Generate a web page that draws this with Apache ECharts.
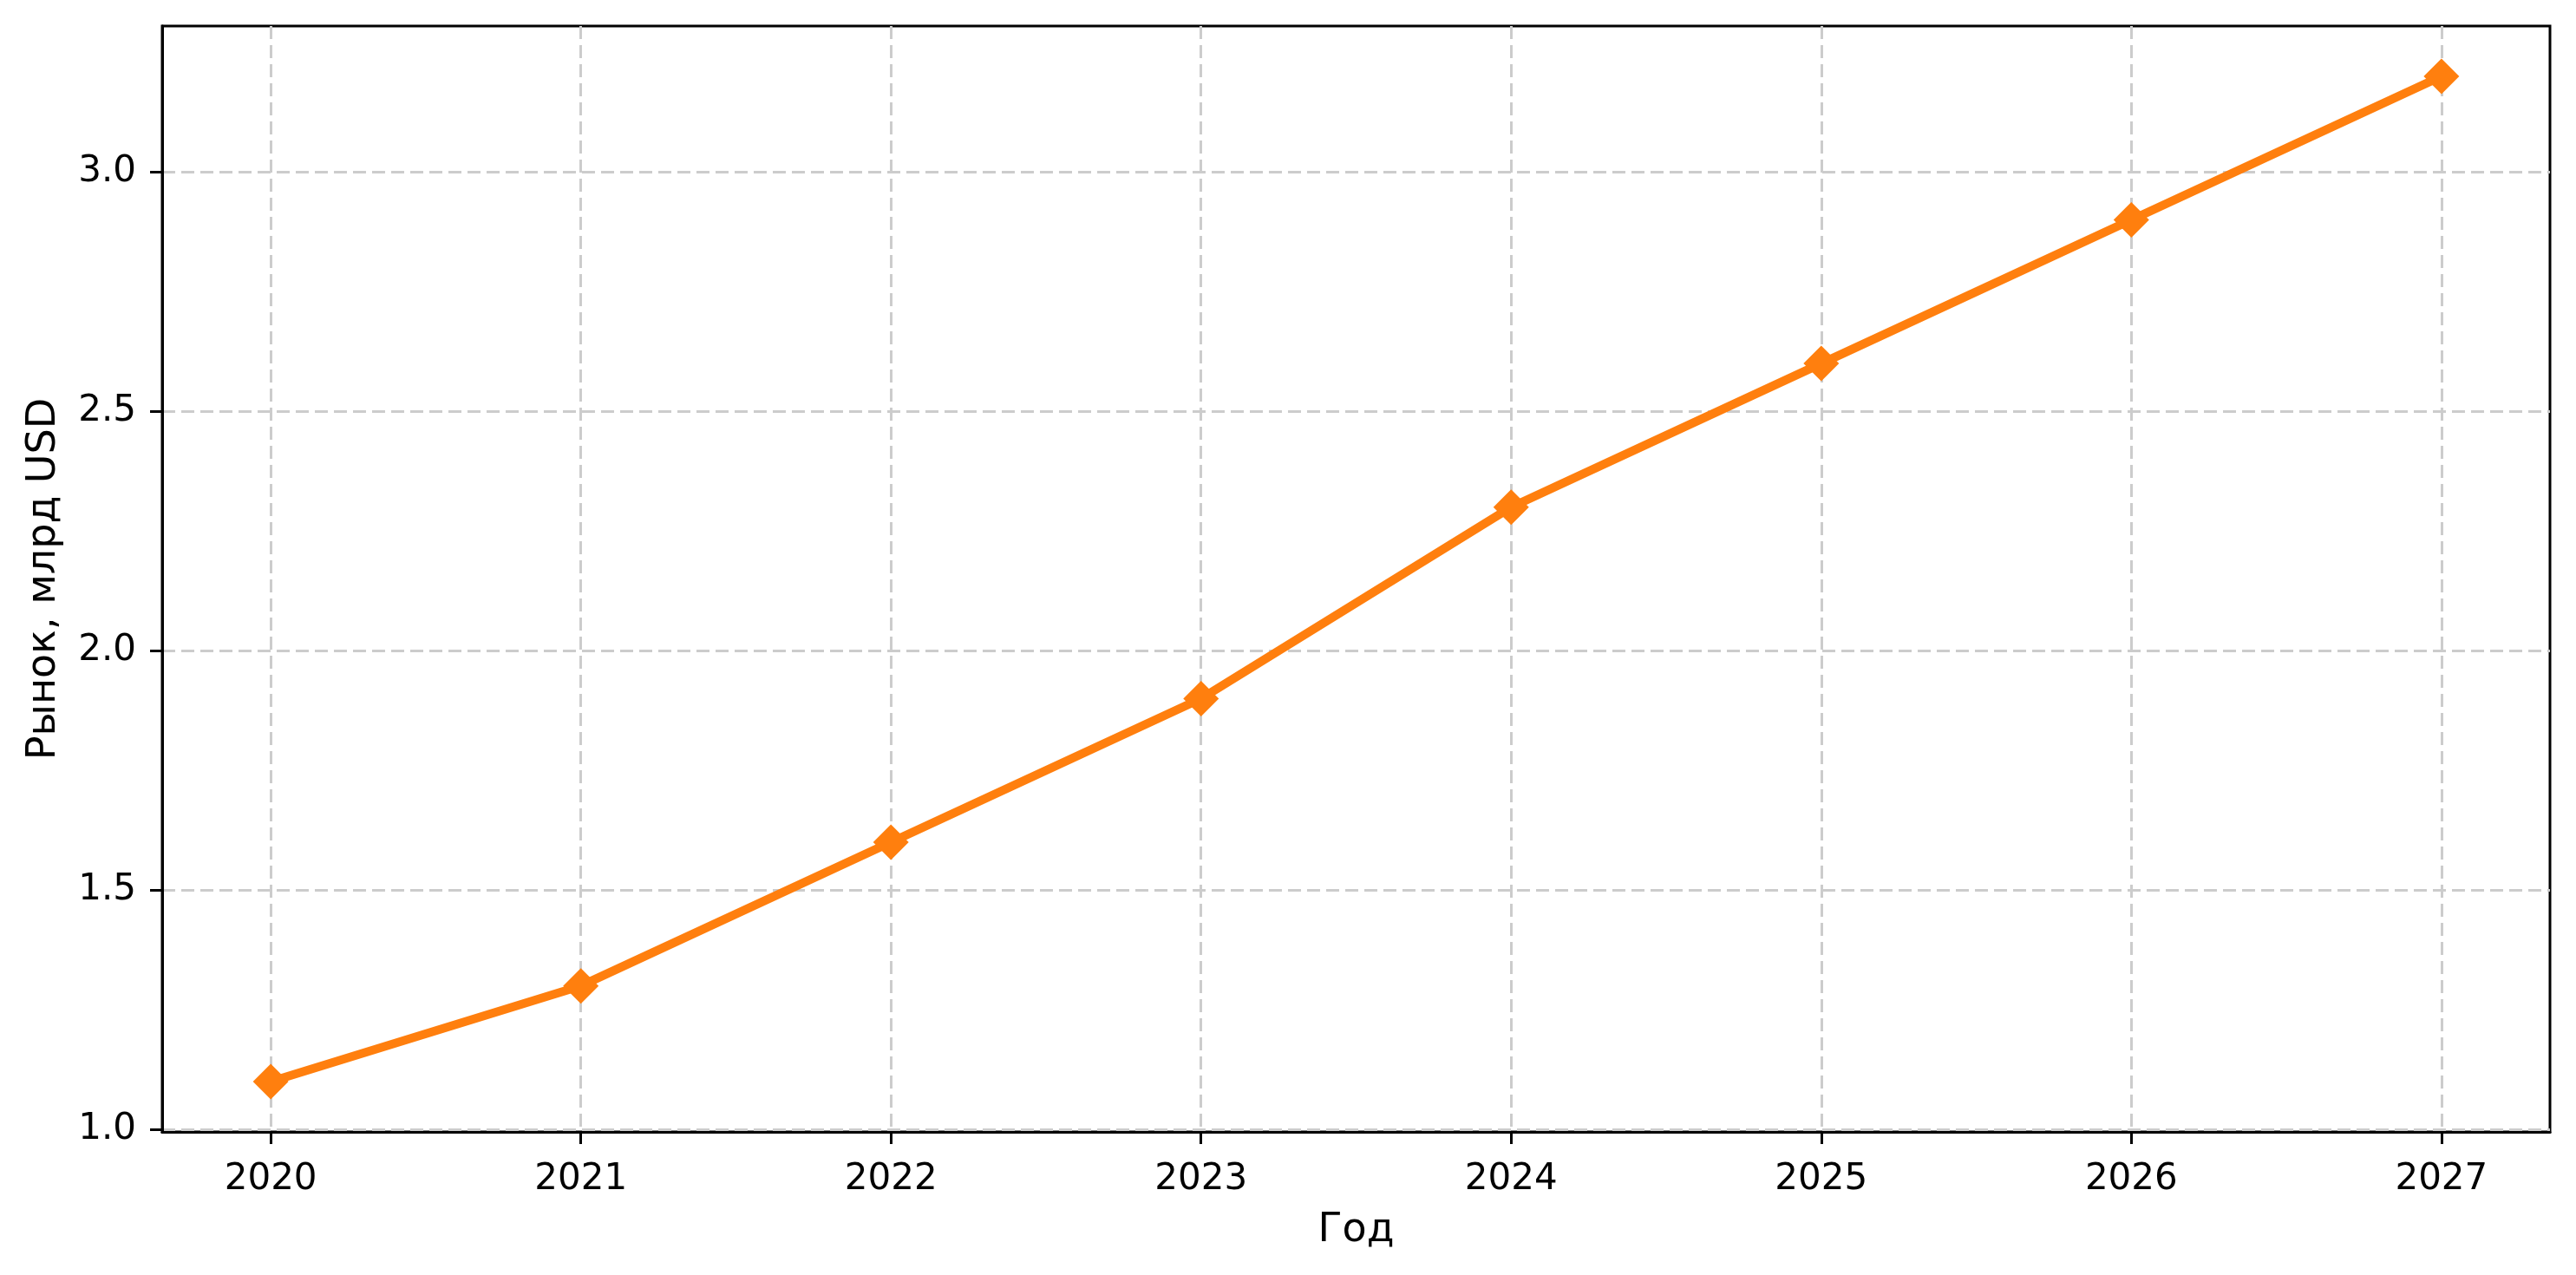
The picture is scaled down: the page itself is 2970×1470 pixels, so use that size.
<!DOCTYPE html>
<html>
<head>
<meta charset="utf-8">
<script src="https://cdn.jsdelivr.net/npm/echarts@6/dist/echarts.min.js"></script>
<style>
html,body{margin:0;padding:0;background:#fff;}
#chart{width:2970px;height:1470px;}
</style>
</head>
<body>
<div id="chart"></div>
<script>
const years = [2020, 2021, 2022, 2023, 2024, 2025, 2026, 2027];
const marketValues = [1.1, 1.3, 1.6, 1.9, 2.3, 2.6, 2.9, 3.2];
const yTicks = [1.0, 1.5, 2.0, 2.5, 3.0];
const xTitle = 'Год';
const yTitle = 'Рынок, млрд USD';

const font = 'DejaVu Sans';
const chart = echarts.init(document.getElementById('chart'), null, {renderer: 'canvas'});
const data = years.map((y, i) => [y, marketValues[i]]);

chart.setOption({
  animation: false,
  backgroundColor: '#ffffff',
  grid: {
    left: 187, right: 30, top: 30, bottom: 165,
    show: true, borderColor: '#000', borderWidth: 3, backgroundColor: 'transparent'
  },
  xAxis: {
    type: 'value',
    min: 2019.65, max: 2027.35,
    name: xTitle, nameLocation: 'middle', nameGap: 91,
    nameTextStyle: {fontFamily: font, fontSize: 46, color: '#000'},
    axisLine: {show: true, onZero: false, lineStyle: {color: '#000', width: 3}},
    axisTick: {show: true, inside: false, length: 14, lineStyle: {color: '#000', width: 3}, customValues: years},
    axisLabel: {fontFamily: font, fontSize: 42, color: '#000', margin: 34, customValues: years,
      formatter: v => String(Math.round(v))},
    splitLine: {show: true, lineStyle: {color: '#cccccc', width: 3, type: [15, 7]}}
  },
  yAxis: {
    type: 'value',
    min: 0.995, max: 3.305,
    name: yTitle, nameLocation: 'middle', nameGap: 113, nameRotate: 90,
    nameTextStyle: {fontFamily: font, fontSize: 46, color: '#000'},
    axisLine: {show: true, onZero: false, lineStyle: {color: '#000', width: 3}},
    axisTick: {show: true, inside: false, length: 14, lineStyle: {color: '#000', width: 3}, customValues: yTicks},
    axisLabel: {fontFamily: font, fontSize: 42, color: '#000', margin: 30, customValues: yTicks,
      formatter: v => v.toFixed(1)},
    splitLine: {show: true, lineStyle: {color: '#cccccc', width: 3, type: [15, 7]}}
  },
  series: [{
    type: 'line',
    data: data,
    symbol: 'diamond',
    symbolSize: 41,
    showSymbol: true,
    lineStyle: {color: '#ff7f0e', width: 10},
    itemStyle: {color: '#ff7f0e', borderWidth: 0},
    z: 3
  }]
});
</script>
</body>
</html>
